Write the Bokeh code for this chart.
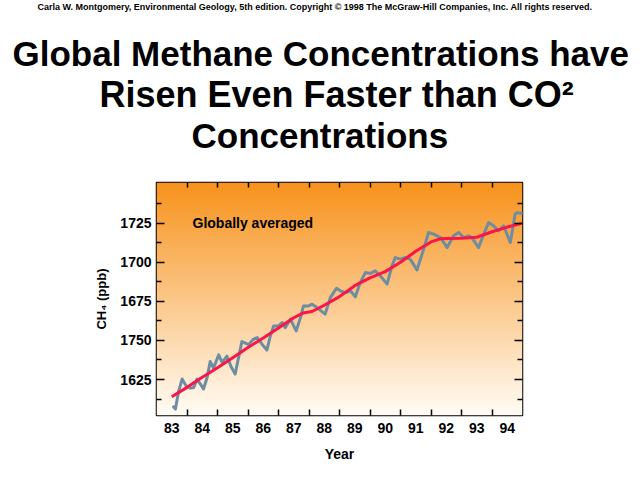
import numpy as np
from bokeh.plotting import figure
from bokeh.models import LinearAxis, FixedTicker, Label, Range1d, Title
from bokeh.embed import file_html
from bokeh.resources import INLINE

# ---------------- data ----------------
years_monthly = [1983.56, 1983.62, 1983.73, 1983.84, 1983.97, 1984.11, 1984.22, 1984.33,
                 1984.44, 1984.54, 1984.66, 1984.76, 1984.87, 1985.04, 1985.15, 1985.31,
                 1985.45, 1985.58, 1985.70, 1985.80, 1985.95, 1986.02, 1986.16, 1986.30,
                 1986.46, 1986.62, 1986.72, 1986.84, 1987.00, 1987.12, 1987.22, 1987.39,
                 1987.58, 1987.72, 1987.82, 1987.99, 1988.10, 1988.26, 1988.53, 1988.70,
                 1988.90, 1989.03, 1989.19, 1989.36, 1989.52, 1989.68, 1989.85, 1990.01,
                 1990.17, 1990.34, 1990.56, 1990.72, 1990.83, 1990.99, 1991.16, 1991.32,
                 1991.54, 1991.76, 1991.92, 1992.09, 1992.31, 1992.53, 1992.74, 1992.91,
                 1993.07, 1993.23, 1993.34, 1993.56, 1993.73, 1993.89, 1994.05, 1994.22,
                 1994.38, 1994.60, 1994.76, 1994.82, 1994.96, 1995.00]
ch4_monthly = [1607.5, 1606.1, 1617.8, 1625.3, 1621.0, 1619.5, 1619.9, 1625.3,
               1622.1, 1618.9, 1626.3, 1636.5, 1632.3, 1640.8, 1635.9, 1640.0,
               1633.0, 1628.5, 1640.0, 1649.3, 1648.0, 1647.2, 1650.5, 1651.9,
               1647.6, 1643.8, 1652.0, 1659.3, 1659.3, 1661.4, 1658.2, 1663.6,
               1656.1, 1664.6, 1672.1, 1672.1, 1673.2, 1671.0, 1666.8, 1677.4,
               1683.4, 1681.7, 1680.5, 1681.7, 1677.9, 1687.0, 1693.4, 1692.8,
               1694.5, 1691.3, 1686.0, 1697.7, 1703.0, 1702.0, 1703.0, 1702.0,
               1695.0, 1708.4, 1719.0, 1718.0, 1715.8, 1709.4, 1716.9, 1719.0,
               1715.8, 1716.9, 1715.8, 1709.4, 1718.0, 1725.4, 1723.3, 1720.1,
               1723.3, 1712.6, 1730.8, 1731.6, 1731.4, 1731.4]

years_trend = [1983.5, 1984.0, 1984.5, 1985.0, 1985.5, 1986.0, 1986.5, 1987.0, 1987.5,
               1987.8, 1988.1, 1988.5, 1989.0, 1989.5, 1990.0, 1990.5, 1991.0, 1991.5,
               1992.0, 1992.3, 1992.5, 1993.0, 1993.5, 1994.0, 1994.5, 1995.0]
ch4_trend = [1614.0, 1620.0, 1626.5, 1632.5, 1639.0, 1645.5, 1651.5, 1658.0, 1664.5,
             1667.5, 1668.5, 1672.5, 1678.0, 1685.0, 1690.0, 1694.0, 1700.0, 1707.0,
             1713.0, 1715.0, 1715.2, 1715.4, 1716.0, 1719.5, 1722.5, 1725.0]

first_year = 1983
year_labels = ["83", "84", "85", "86", "87", "88", "89", "90", "91", "92", "93", "94"]
y_ticks = [1625, 1650, 1675, 1700, 1725]
y_tick_labels = ["1625", "1750", "1675", "1700", "1725"]   # as printed in the original

credit = ("Carla W. Montgomery, Environmental Geology, 5th edition. Copyright \u00a9 1998 "
          "The McGraw-Hill Companies, Inc. All rights reserved.")
title_lines = ["Global Methane Concentrations have", "Risen Even Faster than CO\u00b2",
               "Concentrations"]
note = "Globally averaged"

x_lo, x_hi = first_year, first_year + len(year_labels)
y_lo, y_hi = 1602, 1751

FONT = "Liberation Sans"
FRAME_L, FRAME_R, FRAME_T, FRAME_B = 156, 522, 182, 415
W, H = 632, 472

p = figure(width=W, height=H, output_backend="svg", toolbar_location=None,
           x_range=Range1d(x_lo, x_hi), y_range=Range1d(y_lo, y_hi),
           x_axis_location=None, y_axis_location=None, title=None,
           min_border_left=FRAME_L, min_border_right=W - FRAME_R,
           min_border_top=FRAME_T, min_border_bottom=H - FRAME_B)
p.xgrid.visible = False
p.ygrid.visible = False
p.outline_line_color = "black"
p.outline_line_width = 1.5
p.background_fill_color = "white"
p.border_fill_color = "white"

# gradient background (orange at top -> near white at bottom)
N = 240
top = np.array([247, 146, 28], dtype=float)
bot = np.array([255, 252, 245], dtype=float)
img = np.empty((N, 1), dtype=np.uint32)
view = img.view(dtype=np.uint8).reshape((N, 1, 4))
t = np.linspace(0, 1, N)
for i in range(3):
    view[:, 0, i] = np.round(bot[i] + (top[i] - bot[i]) * t).astype(np.uint8)
view[:, 0, 3] = 255
p.image_rgba(image=[img], x=x_lo, y=y_lo, dw=x_hi - x_lo, dh=y_hi - y_lo)

# data lines
p.line(years_monthly, ch4_monthly, line_color="#6D8DA3", line_width=3,
       line_join="round", line_cap="round")
p.line(years_trend, ch4_trend, line_color="#FA1648", line_width=3, line_join="round")

# ---- axes ----
year_bounds = list(range(x_lo + 1, x_hi))
label_pos = [x_lo + i + 0.5 for i in range(len(year_labels))]

xb = LinearAxis(ticker=FixedTicker(ticks=label_pos, minor_ticks=year_bounds),
                major_label_overrides={pos: lab for pos, lab in zip(label_pos, year_labels)})
xb.major_tick_in = 0
xb.major_tick_out = 0
xb.minor_tick_in = 6
xb.minor_tick_out = 0
xb.minor_tick_line_width = 1.5
xb.axis_line_color = None
xb.major_label_standoff = 7
xb.major_label_text_font = FONT
xb.major_label_text_font_style = "bold"
xb.major_label_text_font_size = "14px"
xb.major_label_text_color = "black"
xb.axis_label = "Year"
xb.axis_label_text_font = FONT
xb.axis_label_text_font_style = "bold"
xb.axis_label_text_font_size = "14px"
xb.axis_label_text_color = "black"
xb.axis_label_standoff = 10
p.add_layout(xb, "below")

xt = LinearAxis(ticker=FixedTicker(ticks=[], minor_ticks=year_bounds))
xt.major_tick_in = 0
xt.major_tick_out = 0
xt.minor_tick_in = 5
xt.minor_tick_out = 0
xt.minor_tick_line_width = 1.5
xt.axis_line_color = None
xt.major_label_standoff = 0
xt.major_label_text_font_size = "0px"
p.add_layout(xt, "above")

minor_y = [v + 12.5 for v in y_ticks] + [y_ticks[0] - 12.5]

yl = LinearAxis(ticker=FixedTicker(ticks=y_ticks, minor_ticks=minor_y),
                major_label_overrides={v: s for v, s in zip(y_ticks, y_tick_labels)})
yl.major_tick_in = 8
yl.major_tick_out = 0
yl.minor_tick_in = 5
yl.minor_tick_out = 0
yl.major_tick_line_width = 1.5
yl.minor_tick_line_width = 1.5
yl.axis_line_color = None
yl.major_label_standoff = 5
yl.major_label_text_font = FONT
yl.major_label_text_font_style = "bold"
yl.major_label_text_font_size = "14px"
yl.major_label_text_color = "black"
yl.axis_label = "CH\u2084 (ppb)"
yl.axis_label_text_font = FONT
yl.axis_label_text_font_style = "bold"
yl.axis_label_text_font_size = "13px"
yl.axis_label_text_color = "black"
yl.axis_label_standoff = 8
p.add_layout(yl, "left")

yr = LinearAxis(ticker=FixedTicker(ticks=y_ticks, minor_ticks=minor_y),
                major_label_overrides={v: "" for v in y_ticks})
yr.major_tick_in = 8
yr.major_tick_out = 0
yr.minor_tick_in = 5
yr.minor_tick_out = 0
yr.major_tick_line_width = 1.5
yr.minor_tick_line_width = 1.5
yr.axis_line_color = None
yr.major_label_standoff = 0
yr.major_label_text_font_size = "0px"
p.add_layout(yr, "right")

# ---- heading lines: titles stacked above the frame (nearest first) ----
def add_title(txt, size, offset, standoff):
    p.add_layout(Title(text=txt, text_font=FONT, text_font_style="bold",
                       text_font_size=size, text_color="black", align="left",
                       vertical_align="top", offset=offset, standoff=standoff), "above")

# small blank spacer between the frame and the heading block
p.add_layout(Title(text=" ", text_font_size="1px", standoff=4), "above")
add_title(title_lines[2], "35px", 35, 37)
add_title(title_lines[1], "36px", -57, -39)
add_title(title_lines[0], "35px", -144, 37)
add_title(credit, "9px", -119, 3)

# note inside the frame (screen units relative to the frame)
p.add_layout(Label(x=36, y=193, x_units="screen", y_units="screen", text=note,
                   text_font=FONT, text_font_style="bold", text_font_size="14px",
                   text_color="black", text_align="left", text_baseline="alphabetic"))

open("out.html", "w").write(file_html(p, INLINE))
